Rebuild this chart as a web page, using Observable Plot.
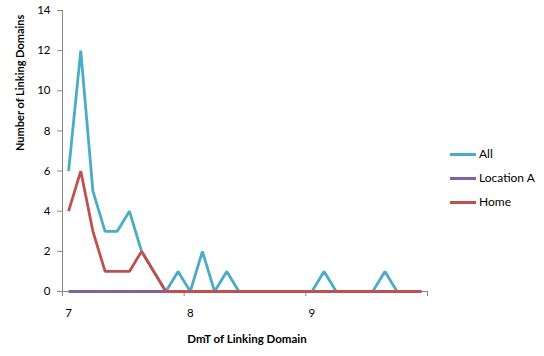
<!DOCTYPE html>
<html>
<head>
<meta charset="utf-8">
<script src="https://cdn.jsdelivr.net/npm/d3@7"></script>
<script src="https://cdn.jsdelivr.net/npm/@observablehq/plot@0.6"></script>
<style>
  html, body { margin: 0; padding: 0; background: #fff; }
  #wrap { position: relative; width: 544px; height: 356px; font-family: Lato, "Liberation Sans", sans-serif; }
  #legend { position: absolute; left: 450px; top: 142px; font-size: 12px; color: #000; }
  #legend .row { height: 24px; display: flex; align-items: center; margin-top: 0; line-height: 16px; }
  #legend .sw { display: inline-block; width: 26px; height: 3px; margin-right: 3px; }
</style>
</head>
<body>
<div id="wrap">
  <div id="chart"></div>
  <div id="legend"></div>
</div>
<script>
// Categories (DmT of linking domain)
const dmt = [7.0, 7.1, 7.2, 7.3, 7.4, 7.5, 7.6, 7.7, 7.8, 7.9,
             8.0, 8.1, 8.2, 8.3, 8.4, 8.5, 8.6, 8.7, 8.8, 8.9,
             9.0, 9.1, 9.2, 9.3, 9.4, 9.5, 9.6, 9.7, 9.8, 9.9];
const xTickLabels = ["7", "8", "9"];
const yTicks = [0, 2, 4, 6, 8, 10, 12, 14];

// Series values
const seriesNames = ["All", "Location A", "Home"];
const seriesColors = ["#4BACC6", "#8064A2", "#C0504D"];
const allValues = [6, 12, 5, 3, 3, 4, 2, 1, 0, 1, 0, 2, 0, 1, 0, 0, 0, 0, 0, 0, 0, 1, 0, 0, 0, 0, 1, 0, 0, 0];
const locationAValues = [0, 0, 0, 0, 0, 0, 0, 0, 0, 0, 0, 0, 0, 0, 0, 0, 0, 0, 0, 0, 0, 0, 0, 0, 0, 0, 0, 0, 0, 0];
const homeValues = [4, 6, 3, 1, 1, 1, 2, 1, 0, 0, 0, 0, 0, 0, 0, 0, 0, 0, 0, 0, 0, 0, 0, 0, 0, 0, 0, 0, 0, 0];

const seriesValues = [allValues, locationAValues, homeValues];
const rows = [];
seriesValues.forEach((vals, s) => vals.forEach((v, i) => rows.push({series: seriesNames[s], idx: i, dmt: dmt[i], value: v})));

const labelIdx = xTickLabels.map(t => dmt.findIndex(d => Math.abs(d - +t) < 1e-9));
const boundaries = [...labelIdx.map(i => i - 0.5), dmt.length - 0.5];
const axisGray = "#868686";

const chart = Plot.plot({
  width: 544,
  height: 356,
  marginLeft: 62,
  marginRight: 117,
  marginTop: 10,
  marginBottom: 65,
  style: {fontFamily: "Lato, 'Liberation Sans', sans-serif", fontSize: "11.5px", background: "white", color: "#000"},
  x: {type: "linear", domain: [-0.5, dmt.length - 0.5], axis: null},
  y: {domain: [0, 14], axis: null},
  color: {domain: seriesNames, range: seriesColors},
  marks: [
    Plot.frame({anchor: "left", stroke: axisGray}),
    Plot.frame({anchor: "bottom", stroke: axisGray}),
    Plot.axisY(yTicks, {tickSize: 5, stroke: axisGray, tickPadding: 7, fill: "#000", label: null, tickFormat: d => String(d)}),
    Plot.axisX(boundaries, {tickSize: 5, stroke: axisGray, tickFormat: () => "", label: null}),
    Plot.axisX(labelIdx, {tickSize: 0, tickPadding: 17, fill: "#000", label: null, tickFormat: (d, i) => xTickLabels[i]}),
    Plot.text(["Number of Linking Domains"], {frameAnchor: "left", rotate: -90, dx: -42, fontWeight: "bold", fontSize: 11, fill: "#000"}),
    Plot.text(["DmT of Linking Domain"], {frameAnchor: "bottom", dy: 51, dx: 2, fontWeight: "bold", fontSize: 11.5, fill: "#000"}),
    ...seriesNames.map(name => Plot.line(rows.filter(r => r.series === name), {
      x: "idx", y: "value", stroke: "series", strokeWidth: 2.8, strokeLinejoin: "miter", strokeLinecap: "butt"
    }))
  ]
});
document.getElementById("chart").appendChild(chart);

const legend = document.getElementById("legend");
seriesNames.forEach((name, s) => {
  const row = document.createElement("div");
  row.className = "row";
  const sw = document.createElement("span");
  sw.className = "sw";
  sw.style.background = seriesColors[s];
  row.appendChild(sw);
  row.appendChild(document.createTextNode(name));
  legend.appendChild(row);
});
</script>
</body>
</html>
